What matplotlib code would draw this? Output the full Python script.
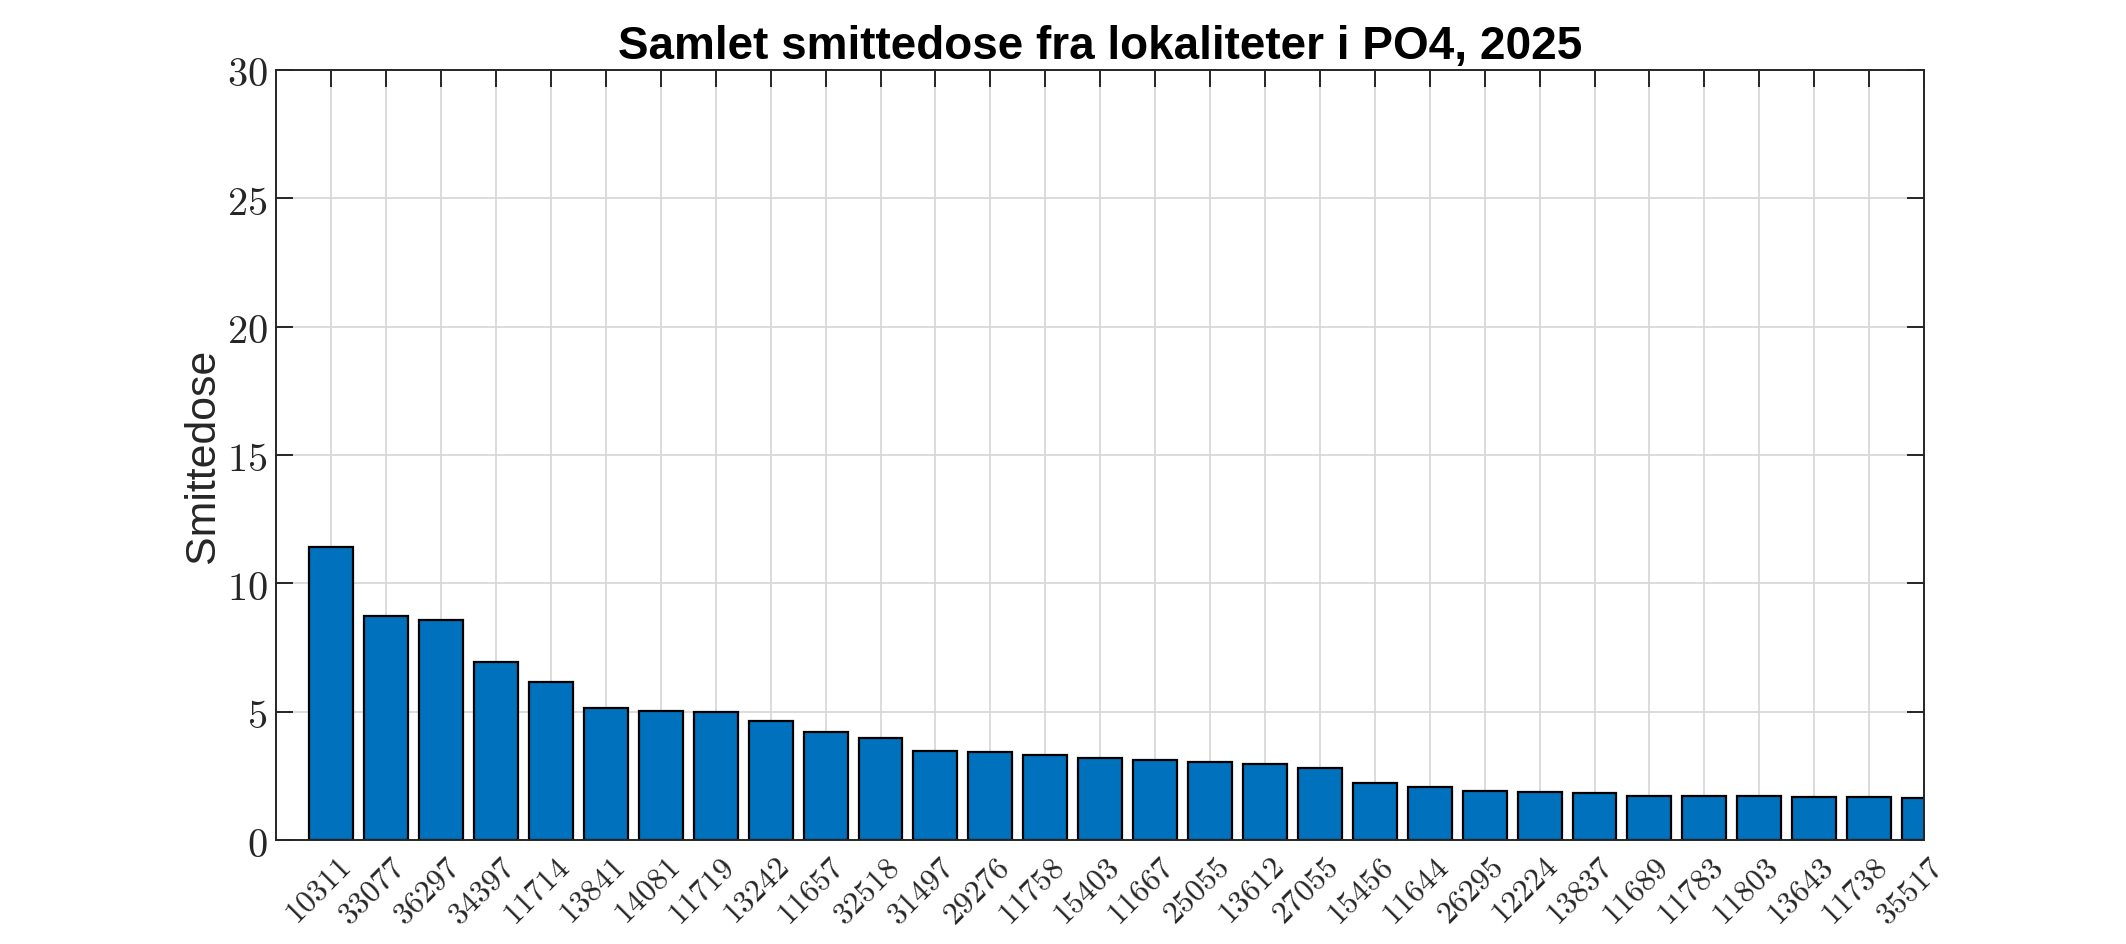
import matplotlib
matplotlib.use("Agg")
import matplotlib.pyplot as plt
import matplotlib.transforms as mtransforms
import numpy as np

plt.rcParams['mathtext.fontset'] = 'cm'

sites = ["10311", "33077", "36297", "34397", "11714", "13841", "14081", "11719",
         "13242", "11657", "32518", "31497", "29276", "11758", "15403", "11667",
         "25055", "13612", "27055", "15456", "11644", "26295", "12224", "13837",
         "11689", "11783", "11803", "13643", "11738", "35517"]
dose = [11.40, 8.73, 8.57, 6.94, 6.15, 5.14, 5.03, 4.98, 4.62, 4.19, 3.99, 3.47,
        3.42, 3.32, 3.19, 3.12, 3.04, 2.95, 2.81, 2.23, 2.05, 1.91, 1.87, 1.83,
        1.72, 1.71, 1.71, 1.69, 1.66, 1.63]
yticks = [0, 5, 10, 15, 20, 25, 30]

title = "Samlet smittedose fra lokaliteter i PO4, 2025"
ylabel = "Smittedose"

axcol = '#262626'
fig = plt.figure(figsize=(10.63, 4.725), dpi=200)
ax = fig.add_axes([0.13, 0.11, 0.775, 0.815])

x = np.arange(1, len(sites) + 1)
ax.bar(x, dose, width=0.8, color='#0072BD', edgecolor='black', linewidth=0.8,
       zorder=3)

ax.set_xlim(0, 30)
ax.set_ylim(0, 30)
ax.set_xticks(x)
ax.set_xticklabels([f'${s}$' for s in sites], rotation=45, ha='right',
                   va='baseline', rotation_mode='anchor', fontsize=11.4)
ax.set_yticks(yticks)
ax.set_yticklabels([f'${v}$' for v in yticks], fontsize=14.5)

ax.tick_params(axis='both', direction='in', length=6.1, width=0.7, colors=axcol,
               top=True, right=True)
ax.tick_params(axis='x', pad=10.2)
ax.tick_params(axis='y', pad=3.2)
shift = mtransforms.ScaledTranslation(7.2 / 72, 0, fig.dpi_scale_trans)
for lab in ax.get_xticklabels():
    lab.set_transform(lab.get_transform() + shift)
for lab in ax.get_xticklabels() + ax.get_yticklabels():
    lab.set_color(axcol)

for sp in ax.spines.values():
    sp.set_color(axcol)
    sp.set_linewidth(0.7)
    sp.set_zorder(4)

ax.grid(True, color='#d6d6d6', linewidth=0.6, zorder=0)
ax.set_axisbelow(True)

ax.set_title(title, fontsize=16.5, fontweight='bold', family='Liberation Sans',
             pad=4.3)
ax.set_ylabel(ylabel, fontsize=15.4, family='Liberation Sans', color=axcol,
              labelpad=1.5)

fig.savefig('out.png', dpi=200, facecolor='white')
